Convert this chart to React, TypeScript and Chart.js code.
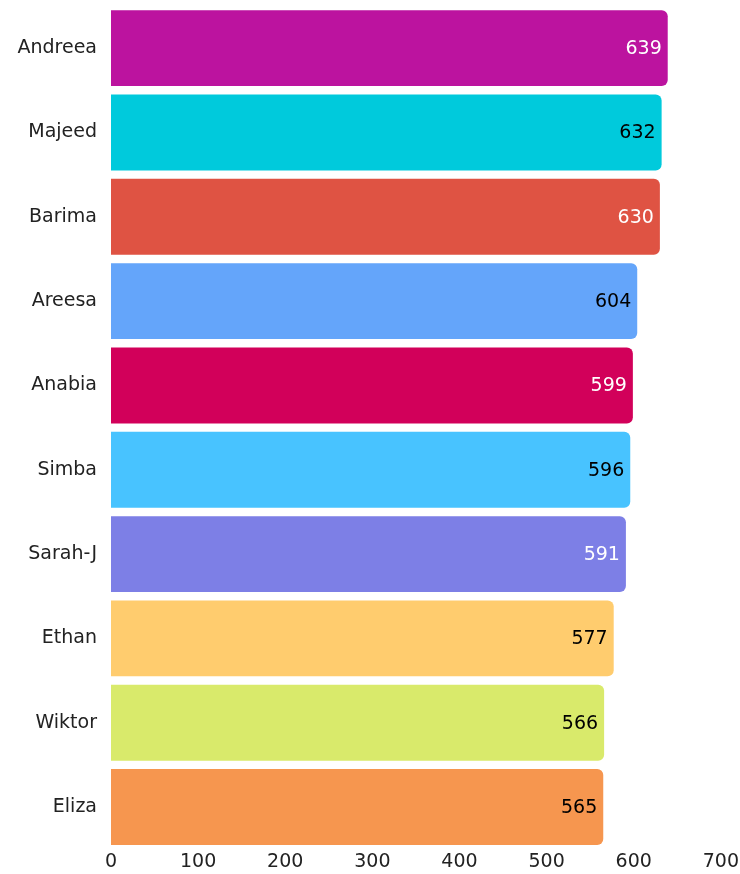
import React, { useEffect, useRef } from "react";
import { Chart, registerables } from "chart.js";

Chart.register(...registerables);

const names = ["Andreea", "Majeed", "Barima", "Areesa", "Anabia", "Simba", "Sarah-J", "Ethan", "Wiktor", "Eliza"];
const scores = [639, 632, 630, 604, 599, 596, 591, 577, 566, 565];
const barColors = ["#BC139F", "#00CADC", "#DF5343", "#64A5FA", "#D2005A", "#48C3FF", "#7D7FE6", "#FFCC6E", "#D9EA6B", "#F6964F"];
const labelColors = ["#ffffff", "#000000", "#ffffff", "#000000", "#ffffff", "#000000", "#ffffff", "#000000", "#000000", "#000000"];

const FONT = "'DejaVu Sans', sans-serif";

const valueLabels = {
  id: "valueLabels",
  afterDatasetsDraw(chart: any) {
    const ctx = chart.ctx;
    const meta = chart.getDatasetMeta(0);
    ctx.save();
    ctx.font = `19px ${FONT}`;
    ctx.textAlign = "right";
    ctx.textBaseline = "middle";
    meta.data.forEach((bar: any, i: number) => {
      ctx.fillStyle = labelColors[i];
      ctx.fillText(String(scores[i]), bar.x - 6, bar.y + 1);
    });
    ctx.restore();
  },
};

export default function App() {
  const ref = useRef<HTMLCanvasElement>(null);
  useEffect(() => {
    const chart = new Chart(ref.current!, {
      type: "bar",
      data: {
        labels: names,
        datasets: [
          {
            data: scores,
            backgroundColor: barColors,
            borderRadius: { topRight: 6, bottomRight: 6, topLeft: 0, bottomLeft: 0 },
            borderSkipped: false,
            barPercentage: 0.9,
            categoryPercentage: 1,
          },
        ],
      },
      options: {
        indexAxis: "y",
        animation: false,
        responsive: false,
        layout: { padding: { top: 6, left: 0, right: 0, bottom: 0 } },
        plugins: { legend: { display: false }, tooltip: { enabled: false } },
        scales: {
          x: {
            min: 0,
            max: 700,
            grid: { display: false, drawTicks: false },
            border: { display: false },
            ticks: { stepSize: 100, color: "#222", font: { size: 19, family: FONT }, padding: 1 },
          },
          y: {
            grid: { display: false, drawTicks: false },
            border: { display: false },
            ticks: { color: "#222", font: { size: 19, family: FONT }, padding: 14 },
            afterFit: (scale: any) => {
              scale.width = 111;
              scale.paddingTop = 0;
              scale.paddingBottom = 0;
            },
          },
        },
      },
      plugins: [valueLabels],
    });
    return () => chart.destroy();
  }, []);
  return (
    <div style={{ position: "absolute", left: 0, top: 0, width: 740, height: 874 }}>
      <canvas ref={ref} width={740} height={874} style={{ width: 740, height: 874 }} />
    </div>
  );
}
